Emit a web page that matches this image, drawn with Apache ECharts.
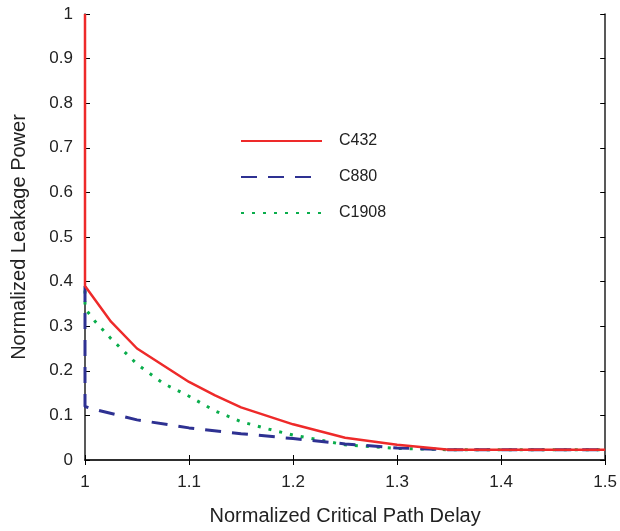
<!DOCTYPE html>
<html>
<head>
<meta charset="utf-8">
<script src="https://cdn.jsdelivr.net/npm/echarts@6/dist/echarts.min.js"></script>
<style>
  html, body { margin: 0; padding: 0; background: #fff; }
  #main { width: 620px; height: 531px; }
</style>
</head>
<body>
<div id="main"></div>
<script>
var myChart = echarts.init(document.getElementById('main'));

// [delay, leakage]
var c432 = [
  [1, 1], [1, 0.39], [1.025, 0.31], [1.05, 0.25], [1.1, 0.175],
  [1.125, 0.145], [1.15, 0.118], [1.2, 0.08], [1.25, 0.05],
  [1.3, 0.034], [1.35, 0.023], [1.4, 0.023], [1.45, 0.023], [1.5, 0.023]
];
var c880 = [
  [1, 0.39], [1, 0.12], [1.005, 0.116], [1.05, 0.09], [1.1, 0.072],
  [1.15, 0.059], [1.2, 0.048], [1.25, 0.036], [1.3, 0.027],
  [1.35, 0.023], [1.4, 0.023], [1.45, 0.023], [1.5, 0.023]
];
var c1908 = [
  [1, 0.38], [1, 0.34], [1.01, 0.31], [1.025, 0.272], [1.05, 0.215],
  [1.075, 0.172], [1.1, 0.143], [1.125, 0.11], [1.15, 0.086],
  [1.175, 0.07], [1.2, 0.056], [1.25, 0.034], [1.3, 0.026],
  [1.35, 0.023], [1.4, 0.023], [1.45, 0.023], [1.5, 0.023]
];

var txt = { color: '#222', fontSize: 17, fontFamily: 'Liberation Sans, Arial, sans-serif' };
var nameTxt = { color: '#222', fontSize: 20, fontFamily: 'Liberation Sans, Arial, sans-serif' };
var tick = { show: true, inside: true, length: 5, lineStyle: { color: '#000' } };
var line = { show: true, lineStyle: { color: '#222', width: 1.5 } };

var option = {
  animation: false,
  grid: { left: 85, right: 10, top: 14, bottom: 67, containLabel: false },
  legend: {
    orient: 'vertical',
    left: 240,
    top: 133,
    padding: 0,
    itemWidth: 81,
    itemHeight: 14,
    itemGap: 20,
    itemStyle: { opacity: 0 },
    textStyle: Object.assign({ padding: [0, 0, 0, 12] }, txt, { fontSize: 16 }),
    data: ['C432', 'C880', 'C1908']
  },
  xAxis: [
    {
      type: 'value', min: 1, max: 1.5, interval: 0.1,
      name: 'Normalized Critical Path Delay',
      nameLocation: 'middle', nameGap: 46,
      nameTextStyle: nameTxt,
      axisLine: line, axisTick: tick,
      axisLabel: Object.assign({ margin: 14 }, txt),
      splitLine: { show: false }
    },
    {
      type: 'value', min: 1, max: 1.5, interval: 0.1, position: 'top',
      axisLine: line, axisTick: tick, axisLabel: { show: false },
      splitLine: { show: false }
    }
  ],
  yAxis: [
    {
      type: 'value', min: 0, max: 1, interval: 0.1,
      name: 'Normalized Leakage Power',
      nameLocation: 'middle', nameGap: 56,
      nameTextStyle: nameTxt,
      axisLine: line, axisTick: tick,
      axisLabel: Object.assign({ margin: 12 }, txt),
      splitLine: { show: false }
    },
    {
      type: 'value', min: 0, max: 1, interval: 0.1, position: 'right',
      axisLine: line, axisTick: tick, axisLabel: { show: false },
      splitLine: { show: false }
    }
  ],
  series: [
    {
      name: 'C1908', type: 'line', data: c1908, symbol: 'none', z: 3,
      itemStyle: { color: '#0aad4c' },
      lineStyle: { color: '#0aad4c', width: 3, type: [3, 8] }
    },
    {
      name: 'C880', type: 'line', data: c880, symbol: 'none', z: 4,
      itemStyle: { color: '#2e3192' },
      lineStyle: { color: '#2e3192', width: 3, type: [16, 11] }
    },
    {
      name: 'C432', type: 'line', data: c432, symbol: 'none', z: 5,
      itemStyle: { color: '#ee2a2a' },
      lineStyle: { color: '#ee2a2a', width: 2.5 }
    }
  ]
};

myChart.setOption(option);
</script>
</body>
</html>
